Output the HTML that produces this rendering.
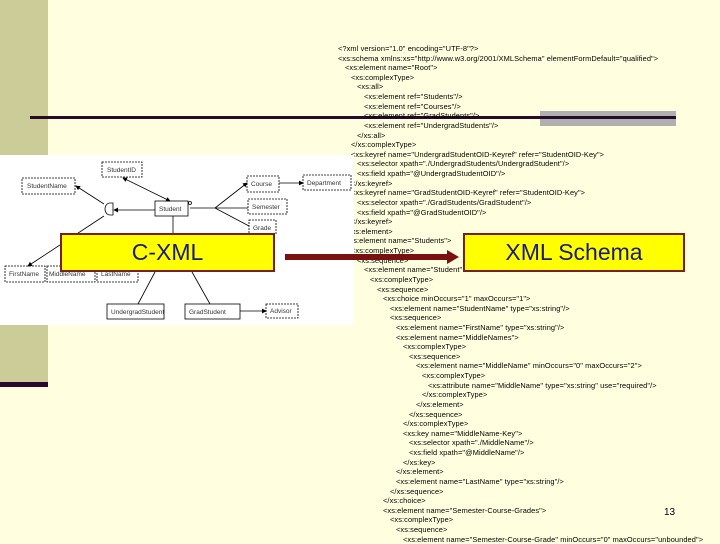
<!DOCTYPE html>
<html><head><meta charset="utf-8"><style>
body{margin:0;width:720px;height:540px;overflow:hidden;background:#ffffe0;position:relative;font-family:"Liberation Sans",sans-serif}
.strip{position:absolute;left:0;width:48px;background:#cccc99}
#code{position:absolute;left:0;top:44px;font-size:7.4px;line-height:9.62px;color:#000;white-space:pre;letter-spacing:0.1px}
#code div{position:absolute;white-space:pre}
.box{position:absolute;background:#ffff00;border:2px solid #7a1f1f;color:#1a1a80;font-size:23px;text-align:center;line-height:35px;box-sizing:border-box}
</style></head><body>
<div class="strip" style="top:0;height:155px"></div>
<div class="strip" style="top:325px;height:57px"></div>
<div style="position:absolute;left:0;top:382px;width:48px;height:5px;background:#2a0a2a"></div>
<div style="position:absolute;left:540px;top:111px;width:136px;height:15px;background:#b0b0b0"></div>
<div style="position:absolute;left:30px;top:116px;width:646px;height:3px;background:#2a0a2a"></div>
<div id="code"></div>
<script>
var L=[[338,'<?xml version="1.0" encoding="UTF-8"?>'],[338,'<xs:schema xmlns:xs="http://www.w3.org/2001/XMLSchema" elementFormDefault="qualified">'],[345,'<xs:element name="Root">'],[351,'<xs:complexType>'],[357,'<xs:all>'],[364,'<xs:element ref="Students"/>'],[364,'<xs:element ref="Courses"/>'],[364,'<xs:element ref="GradStudents"/>'],[364,'<xs:element ref="UndergradStudents"/>'],[357,'</xs:all>'],[351,'</xs:complexType>'],[351,'<xs:keyref name="UndergradStudentOID-Keyref" refer="StudentOID-Key">'],[357,'<xs:selector xpath="./UndergradStudents/UndergradStudent"/>'],[357,'<xs:field xpath="@UndergradStudentOID"/>'],[351,'</xs:keyref>'],[351,'<xs:keyref name="GradStudentOID-Keyref" refer="StudentOID-Key">'],[357,'<xs:selector xpath="./GradStudents/GradStudent"/>'],[357,'<xs:field xpath="@GradStudentOID"/>'],[351,'</xs:keyref>'],[345,'</xs:element>'],[345,'<xs:element name="Students">'],[351,'<xs:complexType>'],[357,'<xs:sequence>'],[364,'<xs:element name="Student" maxOccurs="unbounded">'],[370,'<xs:complexType>'],[377,'<xs:sequence>'],[383,'<xs:choice minOccurs="1" maxOccurs="1">'],[390,'<xs:element name="StudentName" type="xs:string"/>'],[390,'<xs:sequence>'],[396,'<xs:element name="FirstName" type="xs:string"/>'],[396,'<xs:element name="MiddleNames">'],[403,'<xs:complexType>'],[409,'<xs:sequence>'],[416,'<xs:element name="MiddleName" minOccurs="0" maxOccurs="2">'],[422,'<xs:complexType>'],[428,'<xs:attribute name="MiddleName" type="xs:string" use="required"/>'],[422,'</xs:complexType>'],[416,'</xs:element>'],[409,'</xs:sequence>'],[403,'</xs:complexType>'],[403,'<xs:key name="MiddleName-Key">'],[409,'<xs:selector xpath="./MiddleName"/>'],[409,'<xs:field xpath="@MiddleName"/>'],[403,'</xs:key>'],[396,'</xs:element>'],[396,'<xs:element name="LastName" type="xs:string"/>'],[390,'</xs:sequence>'],[383,'</xs:choice>'],[383,'<xs:element name="Semester-Course-Grades">'],[390,'<xs:complexType>'],[396,'<xs:sequence>'],[403,'<xs:element name="Semester-Course-Grade" minOccurs="0" maxOccurs="unbounded">']];
var c=document.getElementById('code'),h='';
L.forEach(function(l,i){var d=document.createElement('div');d.style.left=l[0]+'px';d.style.top=(i*9.62)+'px';d.textContent=l[1];c.appendChild(d);});
</script>
<svg style="position:absolute;left:0;top:155px" width="354" height="170" viewBox="0 155 354 170" font-family="Liberation Sans" font-size="6.5">
<defs><marker id="a" markerWidth="6" markerHeight="6" refX="5" refY="3" orient="auto"><path d="M0,0L6,3L0,6z" fill="#000"/></marker>
<marker id="b" markerWidth="6" markerHeight="6" refX="1" refY="3" orient="auto"><path d="M6,0L0,3L6,6z" fill="#000"/></marker></defs>
<rect x="0" y="155" width="354" height="170" fill="#fff"/>
<g fill="none" stroke="#000" stroke-width="0.8">
<line x1="123" y1="178" x2="170" y2="201" marker-start="url(#b)" marker-end="url(#a)"/>
<line x1="155" y1="210" x2="114" y2="210" marker-end="url(#a)"/>
<line x1="104" y1="204" x2="76" y2="186" marker-end="url(#a)"/>
<line x1="104" y1="216" x2="28" y2="266" marker-end="url(#a)"/>
<line x1="190" y1="208" x2="215" y2="208"/>
<line x1="215" y1="208" x2="247" y2="183" marker-end="url(#a)"/>
<line x1="215" y1="208" x2="248" y2="208"/>
<line x1="215" y1="208" x2="249" y2="226"/>
<line x1="279" y1="183" x2="303" y2="183" marker-end="url(#a)"/>
<line x1="173" y1="216" x2="173" y2="233"/>
<line x1="155" y1="272" x2="138" y2="304"/>
<line x1="192" y1="272" x2="210" y2="304"/>
<line x1="240" y1="311" x2="266" y2="311" marker-end="url(#a)"/>
<path d="M113,203 L110,203 A5,6 0 0 0 110,215 L113,215 Z"/>
<circle cx="190" cy="203" r="1.5"/>
<g stroke-dasharray="2,1">
<rect x="102" y="162" width="40" height="15"/>
<rect x="22" y="178" width="53" height="16"/>
<rect x="247" y="176" width="32" height="16"/>
<rect x="303" y="175" width="48" height="15"/>
<rect x="248" y="199" width="39" height="15"/>
<rect x="249" y="220" width="27" height="14"/>
<rect x="5" y="266" width="40" height="16"/>
<rect x="47" y="266" width="48" height="16"/>
<rect x="97" y="266" width="41" height="16"/>
<rect x="266" y="304" width="32" height="14"/>
</g>
<rect x="155" y="201" width="33" height="15"/>
<rect x="107" y="304" width="57" height="15"/>
<rect x="185" y="304" width="55" height="15"/>
</g>
<g fill="#333">
<text x="107" y="172">StudentID</text><text x="27" y="188">StudentName</text>
<text x="159" y="211">Student</text><text x="251" y="186">Course</text>
<text x="307" y="185">Department</text><text x="252" y="209">Semester</text>
<text x="253" y="230">Grade</text><text x="9" y="276">FirstName</text>
<text x="49" y="276">MiddleName</text><text x="101" y="276">LastName</text>
<text x="111" y="314">UndergradStudent</text><text x="189" y="314">GradStudent</text>
<text x="270" y="313">Advisor</text></g>
</svg>
<div class="box" style="left:60px;top:233px;width:215px;height:39px">C-XML</div>
<div style="position:absolute;left:285px;top:254px;width:163px;height:6px;background:#7a1010"></div>
<div style="position:absolute;left:447px;top:250px;width:0;height:0;border-top:7px solid transparent;border-bottom:7px solid transparent;border-left:12px solid #7a1010"></div>
<div class="box" style="left:463px;top:233px;width:222px;height:39px">XML Schema</div>
<div style="position:absolute;left:664px;top:507px;font-size:10px">13</div>
</body></html>
